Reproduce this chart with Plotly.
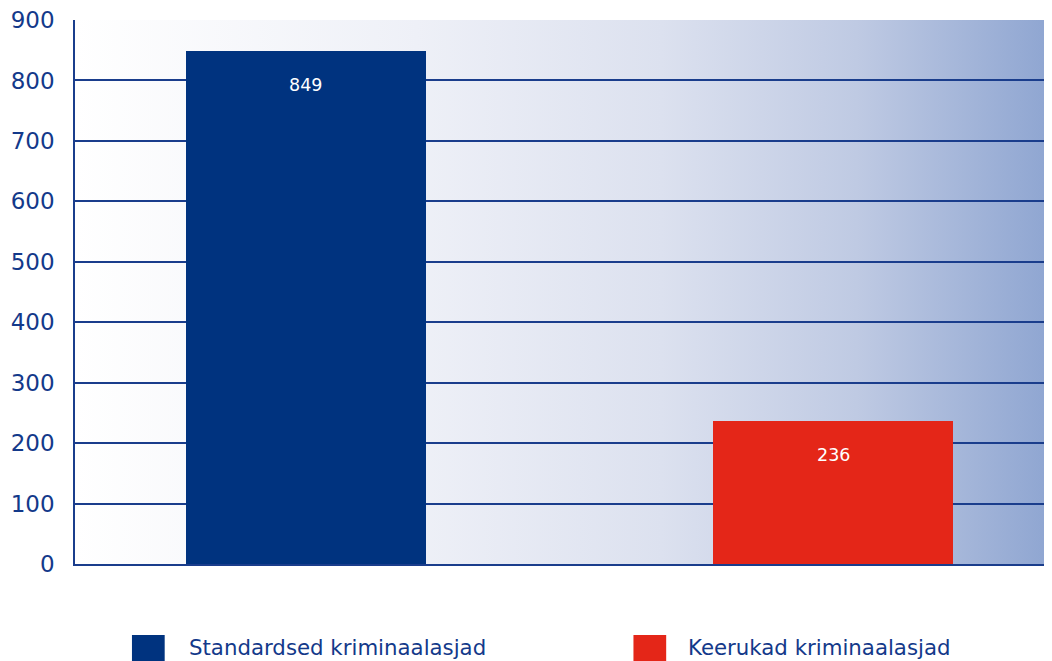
import base64
import plotly.graph_objects as go

categories = ["Standardsed kriminaalasjad", "Keerukad kriminaalasjad"]
values = [849, 236]
colors = ["#00337f", "#e42618"]
tick_vals = [0, 100, 200, 300, 400, 500, 600, 700, 800, 900]

BLUE_TXT = "#13398a"
LINE = "#1a3d8c"
FONT = "DejaVu Sans, Verdana, sans-serif"

svg = (
    '<svg xmlns="http://www.w3.org/2000/svg" width="1000" height="100" '
    'preserveAspectRatio="none" viewBox="0 0 1000 100">'
    '<defs><linearGradient id="g" x1="0" y1="0" x2="1" y2="0">'
    '<stop offset="0" stop-color="#ffffff"/>'
    '<stop offset="0.35" stop-color="#eef0f7"/>'
    '<stop offset="0.6" stop-color="#dce1ef"/>'
    '<stop offset="0.8" stop-color="#bfcae3"/>'
    '<stop offset="1" stop-color="#8ea5d1"/>'
    '</linearGradient></defs>'
    '<rect width="1000" height="100" fill="url(#g)"/></svg>'
)
svg_uri = "data:image/svg+xml;base64," + base64.b64encode(svg.encode()).decode()

xs = list(range(len(categories)))

fig = go.Figure()
fig.add_trace(go.Bar(
    x=xs, y=values, marker=dict(color=colors, line=dict(width=0)),
    width=0.455, showlegend=False, hoverinfo="skip",
))

for xi, v in zip(xs, values):
    fig.add_annotation(x=xi, y=v, text=str(v), showarrow=False, yshift=-34,
                       font=dict(family=FONT, size=17.5, color="white"))

# manual legend
leg_sq = [0.0583, 0.5716]
leg_tx = [0.1146, 0.6258]
for i, (name, col) in enumerate(zip(categories, colors)):
    fig.add_shape(type="rect", xref="paper", yref="paper",
                  x0=leg_sq[i], x1=leg_sq[i] + 0.0335,
                  y0=-0.18, y1=-0.1305,
                  fillcolor=col, line=dict(width=0))
    fig.add_annotation(xref="paper", yref="paper", x=leg_tx[i], y=-0.154,
                       text=name, showarrow=False, xanchor="left", yanchor="middle",
                       font=dict(family=FONT, size=21.3, color=BLUE_TXT))

fig.add_layout_image(dict(source=svg_uri, xref="paper", yref="paper", x=0, y=1,
                          sizex=1, sizey=1, sizing="stretch", xanchor="left",
                          yanchor="top", layer="below", opacity=1))

fig.update_layout(
    width=1044, height=653,
    margin=dict(l=67, r=0, t=12, b=97),
    paper_bgcolor="white", plot_bgcolor="rgba(0,0,0,0)",
    font=dict(family=FONT, color=BLUE_TXT),
    xaxis=dict(range=[-0.4375, 1.415], showticklabels=False, showgrid=False,
               zeroline=False, showline=True, linecolor=LINE, linewidth=1.6,
               fixedrange=True),
    yaxis=dict(range=[0, 900], tickvals=tick_vals, showgrid=True,
               gridcolor=LINE, gridwidth=1.6, zeroline=False,
               showline=True, linecolor=LINE, linewidth=1.5,
               tickfont=dict(family=FONT, size=23, color=BLUE_TXT),
               ticklabelstandoff=14, ticklabeloverflow="allow",
               ticks="", fixedrange=True),
    bargap=0,
)

fig.write_html("out.html")
